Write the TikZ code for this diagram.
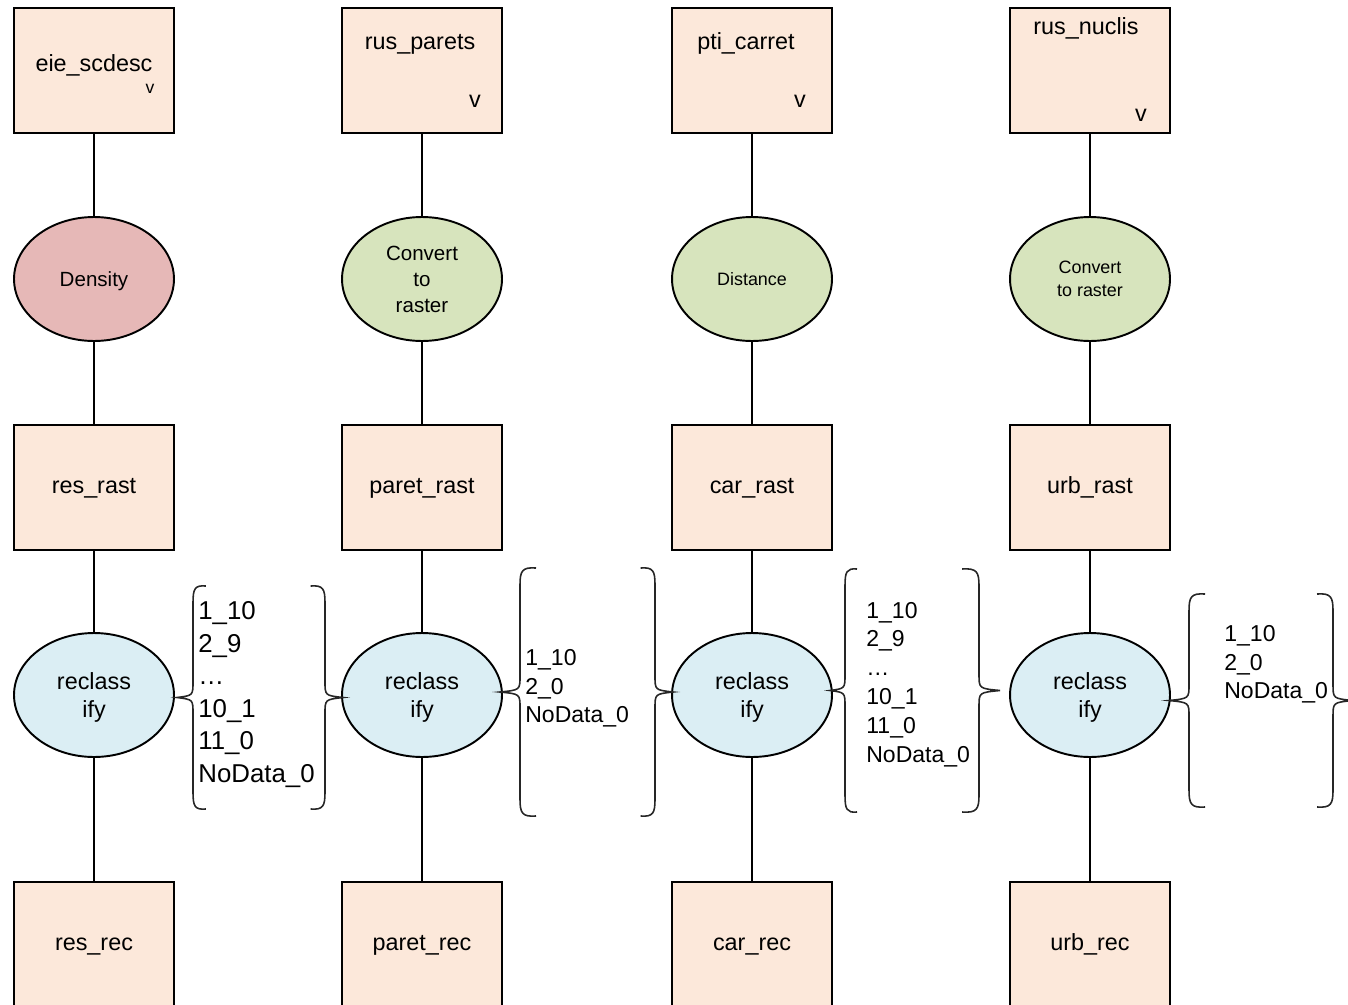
\documentclass[tikz,border=0pt]{standalone}
\usepackage{fontspec}
\setmainfont{Liberation Sans}
\usepackage{xcolor}
\usetikzlibrary{shapes.geometric}

\definecolor{boxfill}{HTML}{FCE8DA}
\definecolor{densfill}{HTML}{E6B8B7}
\definecolor{opfill}{HTML}{D7E4BD}
\definecolor{recfill}{HTML}{DBEEF4}

\tikzset{
  databox/.style={draw, line width=1.1pt, fill=boxfill, minimum width=3.2cm, minimum height=2.5cm, inner sep=0pt},
  tool/.style={draw, ellipse, line width=1.1pt, minimum width=3.2cm, minimum height=2.48cm, inner sep=0pt, align=center, text depth=0pt},
  txt/.style={inner sep=0pt, text height=0.7em, text depth=0pt, font=\fontsize{13.3}{16}\selectfont},
  list/.style={inner sep=0pt, anchor=west, align=left, text depth=0pt, font=\fontsize{13.1}{16.4}\selectfont},
  link/.style={line width=1.1pt},
  curly/.style={line width=0.9pt, color=black!85}
}

\begin{document}
\begin{tikzpicture}[x=0.02cm, y=-0.02cm]
\useasboundingbox (0,0) rectangle (1348,1004);

\node[databox] (eie) at (94,70.5) {};
\node[txt] (eietitle) at (94,65) {eie\_scdesc};
\node[txt, font=\fontsize{10}{12}\selectfont] (eiev) at (150,87) {v};
\node[databox] (rusp) at (422,70.5) {};
\node[txt] (rusptitle) at (420,43) {rus\_parets};
\node[txt] (ruspv) at (475,101) {v};
\node[databox] (pti) at (752,70.5) {};
\node[txt] (ptititle) at (746,43) {pti\_carret};
\node[txt] (ptiv) at (800,101) {v};
\node[databox] (rusn) at (1090,70.5) {};
\node[txt] (rusntitle) at (1086,28.5) {rus\_nuclis};
\node[txt] (rusnv) at (1141,115) {v};

\node[tool, fill=densfill, font=\fontsize{11.7}{14.7}\selectfont] (dens) at (94,279) {Density};
\node[tool, fill=opfill, font=\fontsize{11.7}{14.7}\selectfont] (convp) at (422,279) {Convert\\to\\raster};
\node[tool, fill=opfill, font=\fontsize{10.2}{13}\selectfont] (dist) at (752,279) {Distance};
\node[tool, fill=opfill, font=\fontsize{10.2}{13}\selectfont] (convn) at (1090,279) {Convert\\to raster};

\node[databox, txt] (resrast) at (94,487.5) {res\_rast};
\node[databox, txt] (paretrast) at (422,487.5) {paret\_rast};
\node[databox, txt] (carrast) at (752,487.5) {car\_rast};
\node[databox, txt] (urbrast) at (1090,487.5) {urb\_rast};

\foreach \n/\x in {resrecl/94, paretrecl/422, carrecl/752, urbrecl/1090}
  \node[tool, fill=recfill, font=\fontsize{13.3}{16.4}\selectfont] (\n) at (\x,695) {reclass\\ify};

\node[databox, txt] (resrec) at (94,944.5) {res\_rec};
\node[databox, txt] (paretrec) at (422,944.5) {paret\_rec};
\node[databox, txt] (carrec) at (752,944.5) {car\_rec};
\node[databox, txt] (urbrec) at (1090,944.5) {urb\_rec};

\foreach \a/\b in {eie/dens, dens/resrast, resrast/resrecl, resrecl/resrec,
                   rusp/convp, convp/paretrast, paretrast/paretrecl, paretrecl/paretrec,
                   pti/dist, dist/carrast, carrast/carrecl, carrecl/carrec,
                   rusn/convn, convn/urbrast, urbrast/urbrecl, urbrecl/urbrec}
  \draw[link] (\a) -- (\b);

\node[list, font=\fontsize{14.7}{18.5}\selectfont] (reslist) at (198,692) {1\_10\\2\_9\\…\\10\_1\\11\_0\\NoData\_0};
\node[list] (paretlist) at (525,686) {1\_10\\2\_0\\NoData\_0};
\node[list] (carlist) at (866,682) {1\_10\\2\_9\\…\\10\_1\\11\_0\\NoData\_0};
\node[list] (urblist) at (1224,662) {1\_10\\2\_0\\NoData\_0};

% braces: vertical x / tip x / top y / bottom y
\foreach \vx/\cx/\ty/\by in {193/177/585/810, 325/343/585/810, 520/500/567/817, 655/673/567/817,
                              845/830/568/813, 979/1000/568/813, 1189/1169/593/808, 1333/1353/593/808}
  \draw[curly] ({\vx+0.8*(\vx-\cx)},{\ty+1}) .. controls ({\vx+0.1*(\vx-\cx)},\ty) and (\vx,{\ty+4}) .. (\vx,{\ty+18})
    -- (\vx,{(\ty+\by)/2-16}) .. controls (\vx,{(\ty+\by)/2-2}) .. (\cx,{(\ty+\by)/2})
    .. controls (\vx,{(\ty+\by)/2+2}) .. (\vx,{(\ty+\by)/2+16})
    -- (\vx,{\by-18}) .. controls (\vx,{\by-4}) and ({\vx+0.1*(\vx-\cx)},\by) .. ({\vx+0.8*(\vx-\cx)},{\by-1});
\end{tikzpicture}
\end{document}
